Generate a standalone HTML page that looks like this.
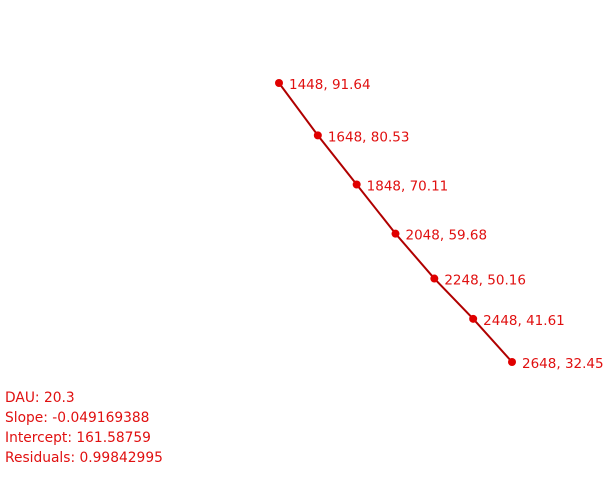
<!DOCTYPE html>
<html><head><meta charset="utf-8"><style>
html,body{margin:0;padding:0;background:#fff;width:612px;height:485px;overflow:hidden}
svg{display:block}
text{font-family:"DejaVu Sans","Liberation Sans",sans-serif;font-size:13.5px;fill:#e01010}
#stats text{font-size:13.8px}
</style></head><body>
<svg id="chart" width="612" height="485">
<g id="plot"></g>
<g id="stats">
<text x="5" y="402">DAU: 20.3</text>
<text x="5" y="422">Slope: -0.049169388</text>
<text x="5" y="442">Intercept: 161.58759</text>
<text x="5" y="462">Residuals: 0.99842995</text>
</g>
</svg>
<script>
const xValues=[1448,1648,1848,2048,2248,2448,2648];
const yValues=[91.64,80.53,70.11,59.68,50.16,41.61,32.45];
const labels=["1448, 91.64","1648, 80.53","1848, 70.11","2048, 59.68","2248, 50.16","2448, 41.61","2648, 32.45"];
function sx(v){return 279+(v-1448)*(233/1200);}
function sy(v){return 83+(91.64-v)*(279/59.19);}
const NS="http://www.w3.org/2000/svg";
const g=document.getElementById('plot');
const line=document.createElementNS(NS,'polyline');


line.setAttribute('points',xValues.map((x,i)=>sx(x)+','+sy(yValues[i])).join(' '));
line.setAttribute('fill','none');line.setAttribute('stroke','#b00000');line.setAttribute('stroke-width','2');
g.appendChild(line);
xValues.forEach((x,i)=>{
 const c=document.createElementNS(NS,'circle');
 
 
 c.setAttribute('cx',sx(x));c.setAttribute('cy',sy(yValues[i]));c.setAttribute('r','4');c.setAttribute('fill','#e00000');
 g.appendChild(c);
 const t=document.createElementNS(NS,'text');
 
 
 t.setAttribute('x',sx(x)+10);t.setAttribute('y',sy(yValues[i])+6);
 t.textContent=labels[i];
 g.appendChild(t);
});
</script>
</body></html>
